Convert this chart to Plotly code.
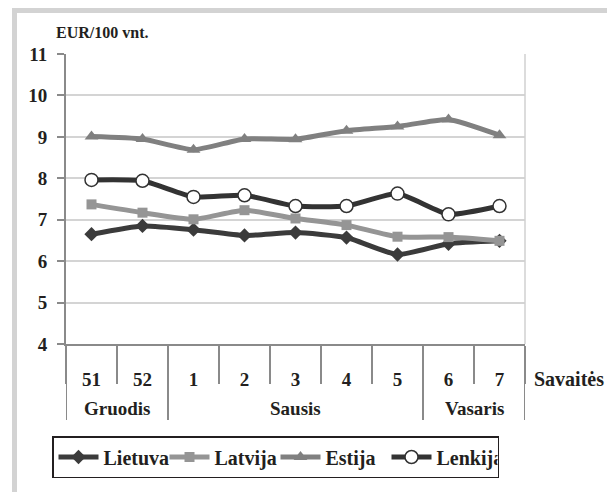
import plotly.graph_objects as go

# Kainos EUR/100 vnt. pagal savaites
weeks = ["51", "52", "1", "2", "3", "4", "5", "6", "7"]
months = ["Gruodis", "Sausis", "Vasaris"]
month_weeks = [2, 5, 2]  # kiek savaiciu kiekviename menesyje

lietuva = [6.65, 6.85, 6.76, 6.62, 6.69, 6.57, 6.16, 6.42, 6.49]
latvija = [7.37, 7.17, 7.01, 7.23, 7.03, 6.87, 6.59, 6.58, 6.49]
estija = [9.01, 8.95, 8.69, 8.95, 8.94, 9.15, 9.25, 9.42, 9.04]
lenkija = [7.96, 7.94, 7.55, 7.59, 7.33, 7.33, 7.63, 7.13, 7.33]

y_ticks = [4, 5, 6, 7, 8, 9, 10, 11]

FONT = "Liberation Serif, Times New Roman, serif"
TXT = "#231f20"
PAGE_W, PAGE_H = 615, 492
OFF = 8  # body margin of the html page
W, H = PAGE_W - OFF, PAGE_H - OFF
L, R, T, B = 66, 525, 54, 344  # plot area in page px


def px(x):
    return (x - L) / (R - L)


def py(y):
    return (B - y) / (B - T)


def bold(size):
    return dict(family=FONT, size=size, color=TXT, weight="bold")


series = [
    ("Lietuva", lietuva, "#3b3b3b", dict(symbol="diamond", size=11, color="#3b3b3b")),
    ("Latvija", latvija, "#959595", dict(symbol="square", size=10, color="#959595")),
    ("Estija", estija, "#808080", dict(symbol="triangle-up", size=12, color="#808080")),
    ("Lenkija", lenkija, "#333333",
     dict(symbol="circle", size=13, color="white", line=dict(color="#333333", width=1.5))),
]

fig = go.Figure()
for name, vals, col, mk in series:
    fig.add_trace(go.Scatter(
        x=weeks, y=vals, name=name, mode="lines+markers",
        line=dict(color=col, width=5, shape="spline", smoothing=0.5),
        marker=mk,
    ))

shapes = []
# ilgieji skirtukai tarp menesiu
bounds = [-0.5]
for n in month_weeks:
    bounds.append(bounds[-1] + n)
for b in bounds:
    shapes.append(dict(type="line", xref="x", yref="paper", x0=b, x1=b,
                       y0=0, y1=py(420), line=dict(color="#8a8a8a", width=2)))
# desinysis remelis
shapes.append(dict(type="line", xref="paper", yref="paper", x0=1, x1=1, y0=0, y1=1,
                   line=dict(color="#d0d0d0", width=1.5)))
# isorinis pilkas remas
shapes.append(dict(type="rect", xref="paper", yref="paper", layer="below",
                   x0=px(14.5), x1=px(613.5), y0=py(500), y1=py(10.5),
                   line=dict(color="#d3d3d3", width=5)))

annotations = [
    dict(text="EUR/100 vnt.", xref="paper", yref="paper", x=px(54), y=py(33),
         xanchor="left", yanchor="middle", showarrow=False, font=bold(16)),
    dict(text="Savaitės", xref="paper", yref="paper", x=px(532), y=py(379),
         xanchor="left", yanchor="middle", showarrow=False, font=bold(20)),
]
for i, m in enumerate(months):
    annotations.append(dict(
        text=m, xref="x", yref="paper", x=(bounds[i] + bounds[i + 1]) / 2,
        y=py(408), xanchor="center", yanchor="middle", showarrow=False, font=bold(19)))

fig.update_layout(
    width=W, height=H,
    margin=dict(l=L - OFF, r=PAGE_W - R, t=T - OFF, b=PAGE_H - B),
    paper_bgcolor="white", plot_bgcolor="white",
    font=dict(family=FONT, color=TXT),
    shapes=shapes, annotations=annotations,
    xaxis=dict(
        type="category", range=[-0.5, 8.5], showgrid=False, automargin=False,
        showline=True, linecolor="#8a8a8a", linewidth=2,
        ticks="outside", tickson="boundaries", ticklen=38, tickwidth=2, tickcolor="#8a8a8a",
        ticklabelstandoff=17, tickfont=bold(19),
    ),
    yaxis=dict(
        range=[4, 11], tickvals=y_ticks, showgrid=True, gridcolor="#d4d4d4", gridwidth=1.5,
        zeroline=False, showline=True, linecolor="#8a8a8a", linewidth=2, automargin=False,
        ticks="outside", ticklen=7, tickwidth=2, tickcolor="#8a8a8a",
        tickfont=bold(19), ticklabelstandoff=6,
    ),
    legend=dict(
        orientation="h", xref="container", yref="container",
        x=(52 - OFF) / W, y=1 - (436 - OFF) / H, xanchor="left", yanchor="top",
        bordercolor="#231f20", borderwidth=1.5, bgcolor="white",
        font=bold(20), entrywidth=56, itemwidth=40,
    ),
)

fig.write_html("out.html")
